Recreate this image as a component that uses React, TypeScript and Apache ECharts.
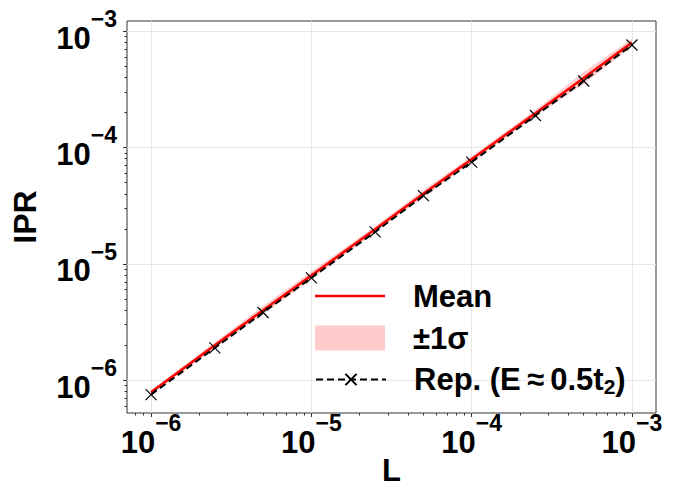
import React, { useEffect, useRef } from "react";
import * as echarts from "echarts";

const L_VALUES = [1e-6, 2.5e-6, 5e-6, 1e-5, 2.5e-5, 5e-5, 1e-4, 2.5e-4, 5e-4, 1e-3];
const MEAN_IPR = [7.9e-7, 2.0e-6, 4.0e-6, 7.95e-6, 1.98e-5, 4.0e-5, 7.9e-5, 1.97e-4, 3.95e-4, 7.95e-4];
const UPPER_IPR = [8.2e-7, 2.12e-6, 4.35e-6, 8.6e-6, 2.1e-5, 4.3e-5, 8.4e-5, 2.1e-4, 4.45e-4, 8.6e-4];
const LOWER_IPR = [7.6e-7, 1.88e-6, 3.7e-6, 7.35e-6, 1.87e-5, 3.72e-5, 7.45e-5, 1.85e-4, 3.5e-4, 7.35e-4];
const REP_IPR = [7.53e-7, 1.9e-6, 3.82e-6, 7.58e-6, 1.88e-5, 3.85e-5, 7.48e-5, 1.88e-4, 3.72e-4, 7.58e-4];

const MAJOR_TICKS = [1e-6, 1e-5, 1e-4, 1e-3];
const X_MINOR = [
  8e-7, 9e-7,
  2e-6, 3e-6, 4e-6, 5e-6, 6e-6, 7e-6, 8e-6, 9e-6,
  2e-5, 3e-5, 4e-5, 5e-5, 6e-5, 7e-5, 8e-5, 9e-5,
  2e-4, 3e-4, 4e-4, 5e-4, 6e-4, 7e-4, 8e-4, 9e-4,
];
const Y_MINOR = [
  6e-7, 7e-7, 8e-7, 9e-7,
  2e-6, 3e-6, 4e-6, 5e-6, 6e-6, 7e-6, 8e-6, 9e-6,
  2e-5, 3e-5, 4e-5, 5e-5, 6e-5, 7e-5, 8e-5, 9e-5,
  2e-4, 3e-4, 4e-4, 5e-4, 6e-4, 7e-4, 8e-4, 9e-4,
];

const X_MIN = Math.pow(10, -6.15);
const X_MAX = Math.pow(10, -2.85);
const Y_MIN = Math.pow(10, -6.281);
const Y_MAX = Math.pow(10, -2.914);

const NAME_MEAN = "Mean";
const NAME_BAND = "±1σ";
const NAME_REP = "Rep. (E≈0.5t2)";

const FONT = "'Liberation Sans', Arial, Helvetica, sans-serif";
const BAND_COLOR = "rgba(255,0,0,0.2)";

const tickRich = {
  b: { fontSize: 31, fontWeight: "bold", fontFamily: FONT, color: "#000", lineHeight: 24, padding: [14, 0, 0, 0] },
  s: { fontSize: 23, fontWeight: "bold", fontFamily: FONT, color: "#000", lineHeight: 16, padding: [0, 0, 24, 0] },
};

const fmtPow = (v: number) => {
  const e = Math.round(Math.log10(v));
  return `{b|10}{s|${e < 0 ? "\u2212" : ""}${Math.abs(e)}}`;
};

export default function App() {
  const ref = useRef<HTMLDivElement>(null);
  useEffect(() => {
    if (!ref.current) return;
    const chart = echarts.init(ref.current, undefined, { renderer: "svg" });
    const meanData = L_VALUES.map((x, i) => [x, MEAN_IPR[i]]);
    const bandData = L_VALUES.map((x, i) => [x, LOWER_IPR[i], UPPER_IPR[i]]);
    const repData = L_VALUES.map((x, i) => [x, REP_IPR[i]]);

    const legendText = {
      fontSize: 31,
      fontWeight: "bold",
      fontFamily: FONT,
      color: "#000",
      padding: [0, 0, 0, 23],
      rich: {
        n: { fontSize: 31, fontWeight: "bold", fontFamily: FONT, color: "#000", lineHeight: 34 },
        sub: { fontSize: 21, fontWeight: "bold", fontFamily: FONT, color: "#000", lineHeight: 15, padding: [14, 0, 0, 0] },
      },
    };

    const mainAxisCommon = {
      type: "log" as const,
      logBase: 10,
      axisLine: { show: false },
      axisTick: { show: true, customValues: MAJOR_TICKS, length: 4, lineStyle: { color: "#333", width: 1 } },
      axisLabel: { customValues: MAJOR_TICKS, formatter: fmtPow, rich: tickRich },
      splitLine: { show: true, lineStyle: { color: "#e6e6e6", width: 1 } },
      minorTick: { show: false },
      nameMoveOverlap: false,
    };
    const minorAxisCommon = {
      type: "log" as const,
      logBase: 10,
      axisLine: { show: false },
      axisLabel: { show: false },
      splitLine: { show: false },
    };

    chart.setOption({
      animation: false,
      backgroundColor: "#fff",
      grid: {
        left: 127, right: 22, top: 21, bottom: 78,
        outerBoundsMode: "none",
        containLabel: false,
        show: true, borderColor: "#333", borderWidth: 1, backgroundColor: "transparent",
      },
      xAxis: [
        {
          ...mainAxisCommon,
          min: X_MIN,
          max: X_MAX,
          position: "bottom",
          name: "L",
          nameLocation: "middle",
          nameGap: 44,
          nameTextStyle: { fontSize: 31, fontWeight: "bold", fontFamily: FONT, color: "#000", lineHeight: 27 },
          axisLabel: { ...mainAxisCommon.axisLabel, margin: 10 },
        },
        {
          ...minorAxisCommon,
          min: X_MIN,
          max: X_MAX,
          position: "bottom",
          axisTick: { show: true, customValues: X_MINOR, length: 2.5, lineStyle: { color: "#333", width: 1 } },
        },
      ],
      yAxis: [
        {
          ...mainAxisCommon,
          min: Y_MIN,
          max: Y_MAX,
          position: "left",
          name: "IPR",
          nameLocation: "middle",
          nameGap: 86,
          nameRotate: 90,
          nameTextStyle: { fontSize: 32, fontWeight: "bold", fontFamily: FONT, color: "#000" },
          axisLabel: { ...mainAxisCommon.axisLabel, margin: 10 },
        },
        {
          ...minorAxisCommon,
          min: Y_MIN,
          max: Y_MAX,
          position: "left",
          axisTick: { show: true, customValues: Y_MINOR, length: 2.5, lineStyle: { color: "#333", width: 1 } },
        },
      ],
      legend: [
        {
          data: [{ name: NAME_MEAN, icon: "rect", itemStyle: { color: "#ff0000" } }],
          left: 315,
          top: 280.5,
          padding: 0,
          itemWidth: 70,
          itemHeight: 2.5,
          selectedMode: false,
          textStyle: legendText,
        },
        {
          data: [{ name: NAME_BAND, icon: "rect", itemStyle: { color: BAND_COLOR } }],
          left: 315,
          top: 322.5,
          padding: 0,
          itemWidth: 70,
          itemHeight: 25,
          selectedMode: false,
          textStyle: legendText,
        },
        {
          data: [NAME_REP],
          left: 315,
          top: 362,
          padding: 0,
          itemWidth: 70,
          itemHeight: 14,
          selectedMode: false,
          textStyle: legendText,
          formatter: () => "{n|Rep. (E\u2009\u2248\u20090.5t}{sub|2}{n|)}",
        },
      ],
      series: [
        {
          name: NAME_BAND,
          type: "custom",
          data: bandData,
          itemStyle: { color: BAND_COLOR },
          silent: true,
          encode: { x: 0, y: [1, 2] },
          renderItem: (params: any, api: any) => {
            if (params.dataIndex !== 0) return null;
            const upperPts = bandData.map((d) => api.coord([d[0], d[2]]));
            const lowerPts = bandData.map((d) => api.coord([d[0], d[1]])).reverse();
            return {
              type: "polygon",
              shape: { points: upperPts.concat(lowerPts) },
              style: { fill: BAND_COLOR, stroke: "none" },
            };
          },
        },
        {
          name: NAME_MEAN,
          type: "line",
          data: meanData,
          symbol: "none",
          lineStyle: { color: "#ff0000", width: 2.5 },
          itemStyle: { color: "#ff0000" },
        },
        {
          name: NAME_REP,
          type: "line",
          data: repData,
          symbol: "path://M0,0L10,10M10,0L0,10",
          symbolSize: 11,
          showAllSymbol: true,
          lineStyle: { color: "#000", width: 2, type: [7, 4] },
          itemStyle: { color: "#000", borderColor: "#000", borderWidth: 1.2 },
        },
      ],
    });
    return () => chart.dispose();
  }, []);
  return <div ref={ref} style={{ width: 678, height: 491, position: "absolute", left: 0, top: 0 }} />;
}
